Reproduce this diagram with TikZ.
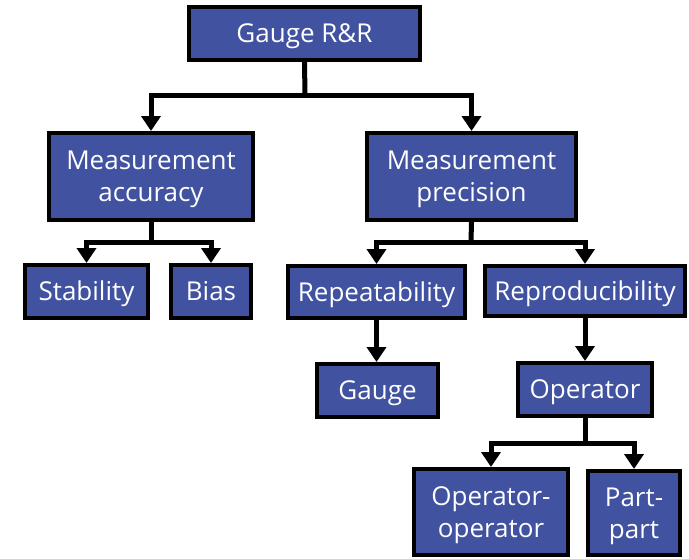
\documentclass[tikz,border=0pt]{standalone}
\usepackage{fontspec}
\setmainfont{Open Sans}
\usetikzlibrary{arrows.meta}
\definecolor{boxblue}{RGB}{65,82,160}
\tikzset{
  box/.style={draw=black, line width=4pt, fill=boxblue, text=white, align=center,
    inner sep=0pt, font=\fontsize{26}{32}\selectfont, text height=18.6pt, text depth=0pt},
  twoline/.style={text height=50.6pt},
  link/.style={line width=5pt, draw=black},
  arr/.style={line width=5pt, draw=black, -{Triangle[width=19pt,length=15pt]}}
}
\begin{document}
\begin{tikzpicture}[x=1pt,y=-1pt]
\useasboundingbox (0,0) rectangle (689,558);
\node[box, minimum width=231pt, minimum height=53pt] (g) at (304.5,33.5) {Gauge R\&R};
\node[box, twoline, minimum width=204pt, minimum height=87pt] (ma) at (151,176.5) {Measurement\\accuracy};
\node[box, twoline, minimum width=209pt, minimum height=87pt] (mp) at (471.5,176.5) {Measurement\\precision};
\node[box, minimum width=123pt, minimum height=53pt] (st) at (86.5,291.5) {Stability};
\node[box, minimum width=80pt, minimum height=53pt] (bi) at (211,291.5) {Bias};
\node[box, minimum width=177pt, minimum height=52pt] (rp) at (376.5,292) {Repeatability};
\node[box, minimum width=200pt, minimum height=50pt] (rd) at (585,291) {Reproducibility};
\node[box, minimum width=121pt, minimum height=53pt] (ga) at (377.5,390.5) {Gauge};
\node[box, minimum width=134pt, minimum height=53pt] (op) at (585,389.5) {Operator};
\node[box, twoline, minimum width=154pt, minimum height=86pt] (oo) at (491,512) {Operator-\\operator};
\node[box, twoline, minimum width=92pt, minimum height=84pt] (pp) at (634,513) {Part-\\part};
\coordinate (b1) at (305,95);
\coordinate (b2) at (151,242);
\coordinate (b3) at (471,242);
\coordinate (b4) at (585,443);
\draw[link] (g.south) -- (b1);
\draw[arr] (b1) -| (ma.north);
\draw[arr] (b1) -| (mp.north);
\draw[link] (ma.south) -- (b2);
\draw[arr] (b2) -| (st.north);
\draw[arr] (b2) -| (bi.north);
\draw[link] (mp.south) -- (b3);
\draw[arr] (b3) -| (rp.north);
\draw[arr] (b3) -| (rd.north);
\draw[arr] (rp.south) -- (rp.south |- ga.north);
\draw[arr] (rd.south) -- (rd.south |- op.north);
\draw[link] (op.south) -- (b4);
\draw[arr] (b4) -| (oo.north);
\draw[arr] (b4) -| (pp.north);
\end{tikzpicture}
\end{document}
